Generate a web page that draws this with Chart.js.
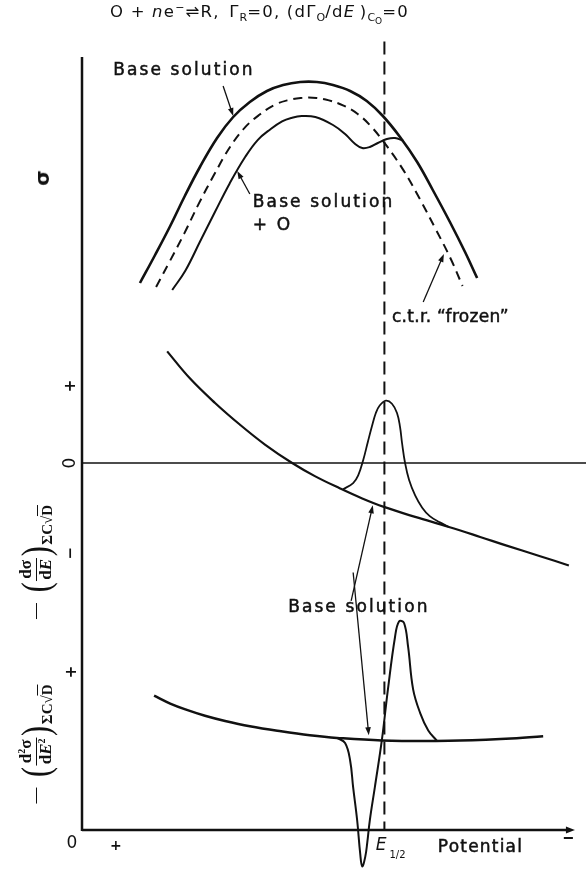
<!DOCTYPE html>
<html lang="en">
<head>
  <meta charset="UTF-8" />
  <title>Electrocapillary curves and derivatives</title>
  <script src="https://cdn.jsdelivr.net/npm/chart.js"></script>
  <style>
    *, *::before, *::after { box-sizing: border-box; margin: 0; padding: 0; }
    body { background: #fff; color: #111; width: 586px; height: 869px; overflow: hidden;
           font-family: 'DejaVu Sans', sans-serif; }
    #wrap { position: relative; width: 586px; height: 869px; }
    #chart { position: absolute; left: 0; top: 0; }
    #title { position: absolute; left: 110px; top: 2px; font-size: 16.5px; line-height: 19px;
             white-space: nowrap; letter-spacing: 1.2px; }
    #title sub { font-size: 11px; vertical-align: -4px; line-height: 0; letter-spacing: 0; }
    #title sub sub { font-size: 9px; vertical-align: -3px; }
    #title sup { font-size: 11px; vertical-align: 6px; line-height: 0; }
    .ylab { position: absolute; transform: translate(-50%, -50%) rotate(-90deg);
            display: flex; align-items: center; white-space: nowrap;
            font-family: 'Liberation Serif', serif; font-weight: bold; }
    #labSig { font-family: 'DejaVu Sans', sans-serif; font-size: 20px; }
    .dash { display: inline-block; width: 16px; border-top: 1.6px solid #111; margin-right: 9px; }
    .paren { font-size: 40px; font-weight: normal; line-height: 1; display: inline-block; transform: scaleX(0.75); }
    .frac { display: inline-flex; flex-direction: column; align-items: center; font-size: 17px; line-height: 1.1; }
    .frac .num { border-bottom: 1.5px solid #111; padding: 0 2px; }
    .frac sup { font-size: 10px; vertical-align: 6px; line-height: 0; }
    .sub { font-size: 15px; align-self: flex-end; }
    .ov { border-top: 1.5px solid #111; padding-top: 1px; }
  </style>
</head>
<body>
<div id="wrap">
  <canvas id="chart" width="586" height="869"></canvas>
  <div id="title">O + <i>n</i>e<sup>−</sup>⇌R,&ensp;Γ<sub>R</sub>=0, (dΓ<sub>O</sub>/d<i>E</i>&thinsp;)<sub>C<sub>O</sub></sub>=0</div>
  <div class="ylab" id="labSig" style="left:42px; top:178px;">σ</div>
  <div class="ylab" style="left:36px; top:562px;">
    <span class="dash"></span><span class="paren">(</span><span class="frac"><span class="num">dσ</span><span>d<i>E</i></span></span><span class="paren">)</span><span class="sub">ΣC√<span class="ov">D</span></span>
  </div>
  <div class="ylab" style="left:36px; top:744px;">
    <span class="dash"></span><span class="paren">(</span><span class="frac"><span class="num">d<sup>2</sup>σ</span><span>d<i>E</i><sup>2</sup></span></span><span class="paren">)</span><span class="sub">ΣC√<span class="ov">D</span></span>
  </div>
</div>

<script>
  // potential axis: arbitrary units, + side at the left, E1/2 at 6
  const E_HALF = 6.0;
  const X_AXIS_END = 9.78;

  // --- surface tension (top) ---
  const SIG_BASE_X = [1.15, 1.45, 1.75, 2.04, 2.34, 2.68, 3.0, 3.33, 3.67, 3.99, 4.33, 4.66, 4.98, 5.32, 5.65, 5.97, 6.31, 6.65, 6.96, 7.3, 7.6, 7.84];
  const SIG_BASE_Y = [0.85, 2.25, 3.7, 5.2, 6.65, 8.1, 9.15, 9.9, 10.45, 10.75, 10.9, 10.9, 10.75, 10.45, 9.95, 9.2, 8.15, 6.9, 5.5, 3.9, 2.4, 1.1];

  const SIG_FROZEN_X = [1.47, 1.73, 2.03, 2.32, 2.62, 2.94, 3.23, 3.52, 3.81, 4.07, 4.34, 4.65, 4.9, 5.19, 5.47, 5.74, 6.05, 6.38, 6.69, 7.02, 7.32, 7.55];
  const SIG_FROZEN_Y = [0.65, 1.88, 3.33, 4.83, 6.26, 7.66, 8.62, 9.26, 9.74, 9.98, 10.1, 10.1, 9.98, 9.72, 9.3, 8.67, 7.69, 6.48, 5.11, 3.53, 2.04, 0.7];

  const SIG_WITH_O_X = [1.79, 2.05, 2.34, 2.64, 2.93, 3.24, 3.49, 3.74, 3.97, 4.15, 4.36, 4.63, 4.98, 5.22, 5.42, 5.56, 5.71, 5.87, 6.05, 6.21, 6.38];
  const SIG_WITH_O_Y = [0.5, 1.46, 2.91, 4.41, 5.83, 7.16, 8.01, 8.54, 8.93, 9.1, 9.2, 9.15, 8.75, 8.3, 7.8, 7.6, 7.65, 7.85, 8.05, 8.1, 7.95];

  // --- first derivative (middle) ---
  const D1_BASE_X = [1.69, 2.14, 2.64, 3.13, 3.63, 4.17, 4.62, 5.12, 5.56, 5.99, 6.61, 7.28, 7.9, 8.41, 9.09, 9.66];
  const D1_BASE_Y = [1.45, 1.1, 0.78, 0.5, 0.24, 0, -0.17, -0.33, -0.46, -0.57, -0.7, -0.83, -0.96, -1.07, -1.21, -1.33];

  const D1_WITH_O_X = [5.18, 5.38, 5.48, 5.58, 5.67, 5.75, 5.83, 5.91, 6.03, 6.15, 6.25, 6.31, 6.35, 6.41, 6.49, 6.61, 6.75, 6.9, 7.1, 7.28];
  const D1_WITH_O_Y = [-0.34, -0.26, -0.16, 0.04, 0.27, 0.47, 0.65, 0.75, 0.81, 0.77, 0.65, 0.47, 0.26, 0, -0.22, -0.42, -0.58, -0.69, -0.77, -0.83];

  // --- second derivative (bottom) ---
  const D2_BASE_X = [1.43, 1.75, 2.08, 2.44, 2.84, 3.33, 3.95, 4.52, 5.06, 5.95, 7.28, 8.41, 9.15];
  const D2_BASE_Y = [0.85, 0.8, 0.76, 0.723, 0.69, 0.657, 0.625, 0.6, 0.583, 0.567, 0.565, 0.578, 0.594];

  const D2_WITH_O_X = [5.06, 5.22, 5.32, 5.38, 5.46, 5.52, 5.56, 5.62, 5.66, 5.71, 5.81, 5.95, 6.07, 6.21, 6.29, 6.39, 6.47, 6.57, 6.71, 6.87, 7.04];
  const D2_WITH_O_Y = [0.583, 0.55, 0.44, 0.27, 0.06, -0.15, -0.23, -0.17, -0.08, 0.06, 0.27, 0.57, 0.89, 1.22, 1.32, 1.31, 1.16, 0.89, 0.74, 0.63, 0.566];

  // ticks on the left axis
  const D1_TICKS = [{ v: 1, t: '+' }, { v: 0, t: '0' }, { v: -1.17, t: '−' }];
  const D2_TICKS = [{ v: 1, t: '+' }];

  // text notes and arrows (data units of the panel axis)
  const NOTES = [
    { text: 'Base solution', x: 0.62, y: 11.25, axis: 'ySig' },
    { text: 'Base solution', x: 3.39, y: 4.65, axis: 'ySig' },
    { text: '+ O', x: 3.39, y: 3.5, axis: 'ySig' },
    { text: 'c.t.r. “frozen”', x: 6.15, y: -1.1, axis: 'ySig', ls: '0.3px' },
    { text: 'Base solution', x: 4.09, y: -1.935, axis: 'yD1' },
    { text: 'Potential', x: 7.06, y: -0.14, axis: 'yD2', ls: '1.2px' }
  ];
  const POINTERS = [
    { from: [2.80, 10.7], to: [3.0, 9.2], axis: 'ySig' },
    { from: [3.33, 5.3], to: [3.08, 6.45], axis: 'ySig' },
    { from: [6.77, -0.1], to: [7.18, 2.3], axis: 'ySig' },
    { from: [5.34, -1.79], to: [5.77, -0.55], axis: 'yD1' },
    { from: [5.38, 1.63], to: [5.69, 0.6], axis: 'yD2' }
  ];

  const INK = '#111';
  const pts = (xs, ys) => xs.map((x, i) => ({ x, y: ys[i] }));

  function curve(data, axis, width, dash) {
    return {
      data, yAxisID: axis, showLine: true, pointRadius: 0, borderColor: INK,
      borderWidth: width, borderDash: dash || [], tension: 0.4, clip: false
    };
  }

  function seg(ctx, x1, y1, x2, y2) {
    ctx.beginPath(); ctx.moveTo(x1, y1); ctx.lineTo(x2, y2); ctx.stroke();
  }

  function head(ctx, x1, y1, x2, y2, len, half) {
    const a = Math.atan2(y2 - y1, x2 - x1);
    ctx.beginPath();
    ctx.moveTo(x2, y2);
    ctx.lineTo(x2 - len * Math.cos(a) + half * Math.sin(a), y2 - len * Math.sin(a) - half * Math.cos(a));
    ctx.lineTo(x2 - len * Math.cos(a) - half * Math.sin(a), y2 - len * Math.sin(a) + half * Math.cos(a));
    ctx.closePath(); ctx.fill();
  }

  function rotText(ctx, s, x, y, font) {
    ctx.save();
    ctx.translate(x, y); ctx.rotate(-Math.PI / 2);
    ctx.font = font; ctx.textAlign = 'center'; ctx.textBaseline = 'middle';
    ctx.fillText(s, 0, 0);
    ctx.restore();
  }

  const overlay = {
    id: 'overlay',
    beforeDatasetsDraw(chart) {
      const { ctx, chartArea: a, scales } = chart;
      const y0 = scales.yD2.getPixelForValue(0);
      const yz = scales.yD1.getPixelForValue(0);
      const xe = scales.x.getPixelForValue(X_AXIS_END);
      ctx.save();
      ctx.strokeStyle = INK; ctx.fillStyle = INK;
      ctx.lineWidth = 2.5;
      seg(ctx, a.left, a.top, a.left, y0 + 1);
      seg(ctx, a.left, y0, xe - 5, y0);
      head(ctx, a.left, y0, xe, y0, 9, 3.5);
      ctx.lineWidth = 1.6;
      seg(ctx, a.left, yz, a.right, yz);
      ctx.restore();
    },
    afterDatasetsDraw(chart) {
      const { ctx, chartArea: a, scales } = chart;
      const X = v => scales.x.getPixelForValue(v);
      ctx.save();
      ctx.fillStyle = INK; ctx.strokeStyle = INK;

      // left axis ticks
      D1_TICKS.forEach(t => rotText(ctx, t.t, a.left - 11, scales.yD1.getPixelForValue(t.v), t.t === '0' ? '17px DejaVu Sans' : 'bold 15px DejaVu Sans'));
      D2_TICKS.forEach(t => rotText(ctx, t.t, a.left - 10, scales.yD2.getPixelForValue(t.v), 'bold 15px DejaVu Sans'));
      const y0 = scales.yD2.getPixelForValue(0);
      ctx.font = '17px DejaVu Sans'; ctx.textAlign = 'center'; ctx.textBaseline = 'alphabetic';
      ctx.fillText('0', a.left - 10, y0 + 18);
      ctx.font = 'bold 14px DejaVu Sans';
      ctx.fillText('+', X(0.67), y0 + 20);
      ctx.lineWidth = 2;
      seg(ctx, X(9.56), y0 + 8, X(9.74), y0 + 8);

      // notes, slightly heavier than the plain face
      ctx.textAlign = 'left';
      ctx.lineWidth = 0.5;
      NOTES.forEach(n => {
        ctx.font = '17px DejaVu Sans';
        ctx.letterSpacing = n.ls || '2.1px';
        const px = X(n.x), py = scales[n.axis].getPixelForValue(n.y);
        ctx.fillText(n.text, px, py);
        ctx.strokeText(n.text, px, py);
      });
      ctx.letterSpacing = '0px';

      // E 1/2
      const ey = scales.yD2.getPixelForValue(-0.127);
      ctx.font = 'italic 17px DejaVu Sans';
      ctx.fillText('E', X(5.83), ey);
      ctx.font = '10px DejaVu Sans';
      ctx.fillText('1/2', X(6.1), ey + 8);

      // arrows
      ctx.lineWidth = 1.3;
      POINTERS.forEach(p => {
        const s = scales[p.axis];
        const x1 = X(p.from[0]), y1 = s.getPixelForValue(p.from[1]);
        const x2 = X(p.to[0]), y2 = s.getPixelForValue(p.to[1]);
        const d = Math.hypot(x2 - x1, y2 - y1);
        seg(ctx, x1, y1, x2 - (x2 - x1) * 6 / d, y2 - (y2 - y1) * 6 / d);
        head(ctx, x1, y1, x2, y2, 8, 2.8);
      });
      ctx.restore();
    }
  };

  new Chart(document.getElementById('chart'), {
    type: 'scatter',
    data: {
      datasets: [
        curve(pts(SIG_BASE_X, SIG_BASE_Y), 'ySig', 2.6),
        curve(pts(SIG_FROZEN_X, SIG_FROZEN_Y), 'ySig', 2, [9, 6]),
        curve(pts(SIG_WITH_O_X, SIG_WITH_O_Y), 'ySig', 2),
        curve(pts(D1_BASE_X, D1_BASE_Y), 'yD1', 2.2),
        curve(pts(D1_WITH_O_X, D1_WITH_O_Y), 'yD1', 1.8),
        curve(pts(D2_BASE_X, D2_BASE_Y), 'yD2', 2.5),
        curve(pts(D2_WITH_O_X, D2_WITH_O_Y), 'yD2', 2),
        Object.assign(curve([{ x: E_HALF, y: 4.99 }, { x: E_HALF, y: 0 }], 'yD2', 2, [13, 7]), { tension: 0 })
      ]
    },
    options: {
      responsive: false,
      animation: false,
      devicePixelRatio: 1,
      layout: { padding: { left: 82, top: 57, right: 0, bottom: 39 } },
      plugins: { legend: { display: false }, title: { display: false }, tooltip: { enabled: false } },
      scales: {
        x: { type: 'linear', min: 0, max: 10, display: false },
        ySig: { type: 'linear', min: -26.5, max: 12.15, display: false },
        yD1: { type: 'linear', min: -4.766, max: 5.273, display: false },
        yD2: { type: 'linear', min: 0, max: 4.892, display: false }
      }
    },
    plugins: [overlay]
  });
</script>
</body>
</html>
